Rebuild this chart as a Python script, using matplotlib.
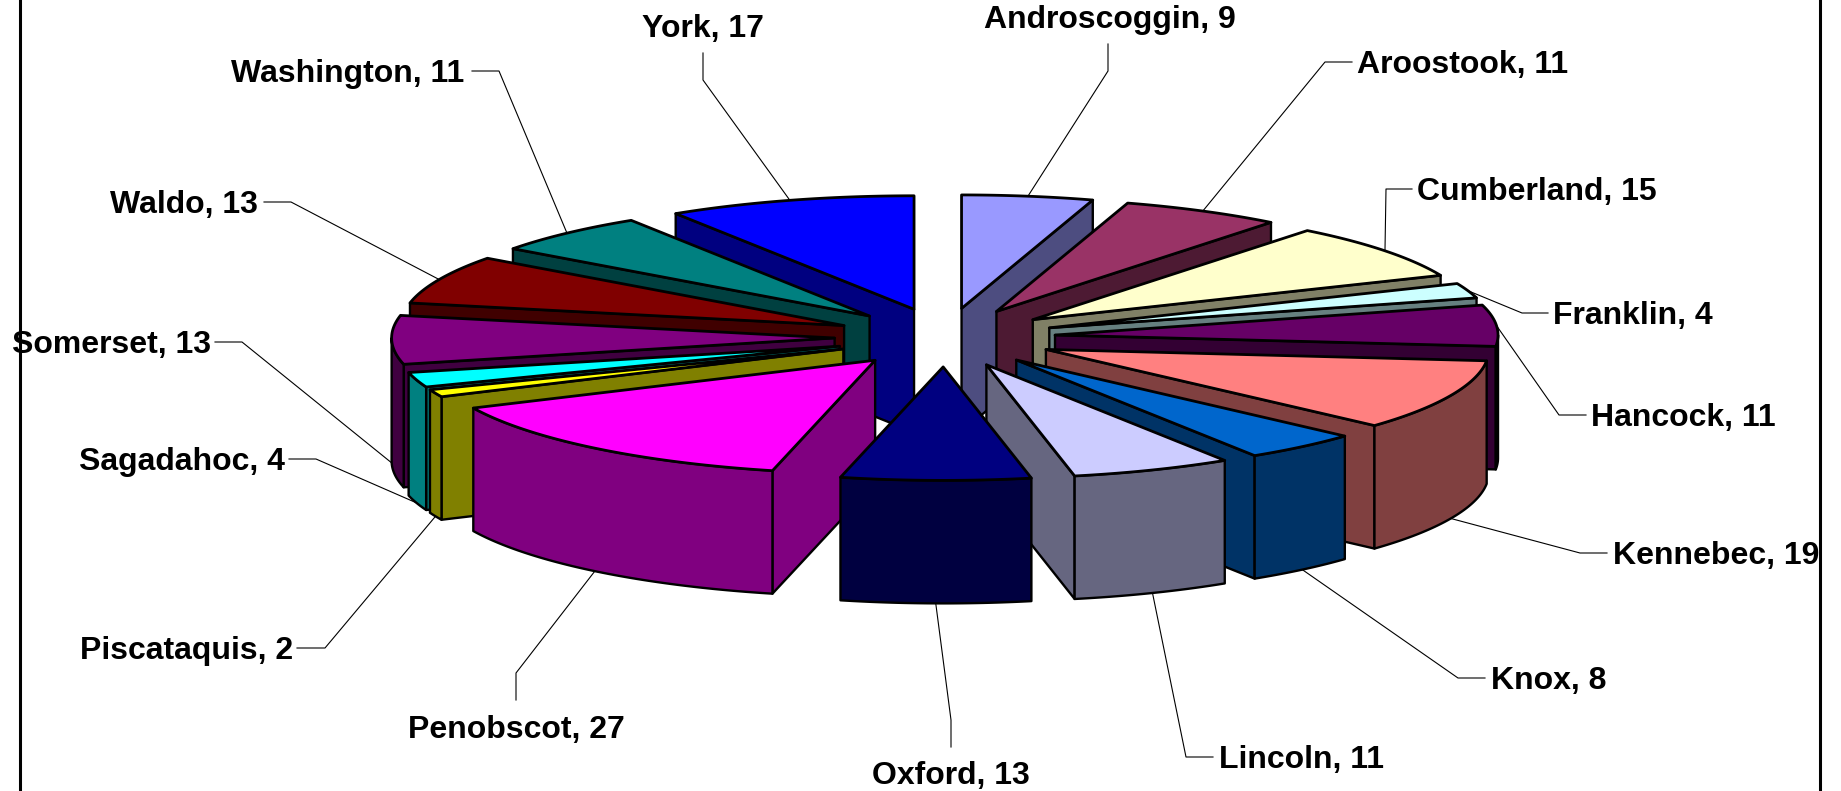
import numpy as np
import matplotlib
matplotlib.use('Agg')
import matplotlib.pyplot as plt
from matplotlib.colors import to_rgb
from matplotlib.patches import Polygon

counties = ['Androscoggin', 'Aroostook', 'Cumberland', 'Franklin', 'Hancock', 'Kennebec',
            'Knox', 'Lincoln', 'Oxford', 'Penobscot', 'Piscataquis', 'Sagadahoc',
            'Somerset', 'Waldo', 'Washington', 'York']
counts = [9, 11, 15, 4, 11, 19, 8, 11, 13, 27, 2, 4, 13, 13, 11, 17]
colors = ['#9999FF', '#993366', '#FFFFCC', '#CCFFFF', '#660066', '#FF8080',
          '#0066CC', '#CCCCFF', '#000080', '#FF00FF', '#FFFF00', '#00FFFF',
          '#800080', '#800000', '#008080', '#0000FF']

# layout, in pixels of the 1841x791 picture
CX, CY = 945, 337.5
RX, RY = 443, 113.5
EX, EY = 110.4, 29.4
DEPTH = 123
label_x = [984, 1357, 1417, 1553, 1591, 1613, 1491, 1219, 872, 408, 80, 79, 12, 110, 231, 642]
label_y = [28, 73, 200, 324, 426, 564, 689, 768, 784, 738, 659, 470, 353, 213, 82, 37]
leader_start = [(1108, 44), (1352, 62), (1412, 189), (1548, 313), (1586, 415), (1607, 553),
                (1485, 678), (1213, 757), (951, 747), (516, 700), (297, 648), (289, 459),
                (215, 342), (264, 202), (472, 71), (703, 53)]
leader_elbow = [(1108, 71), (1325, 62), (1386, 189), (1522, 313), (1559, 415), (1580, 553),
                (1458, 678), (1186, 757), (951, 720), (516, 673), (325, 648), (316, 459),
                (242, 342), (291, 202), (499, 71), (703, 80)]


def rim(theta, off_x=0, off_y=0, drop=0):
    return np.column_stack([CX + off_x + RX * np.sin(theta),
                            CY + off_y - RY * np.cos(theta) + drop])


fig = plt.figure(figsize=(18.41, 7.91), dpi=100)
ax = fig.add_axes([0, 0, 1, 1])
ax.set_xlim(0, 1841)
ax.set_ylim(791, 0)
ax.axis('off')

edges = np.cumsum([0] + counts) / sum(counts) * 2 * np.pi
mids = (edges[:-1] + edges[1:]) / 2
order = np.argsort(-np.cos(mids))

for z, i in enumerate(order):
    a0, a1 = edges[i], edges[i + 1]
    ox, oy = EX * np.sin(mids[i]), -EY * np.cos(mids[i])
    apex = np.array([[CX + ox, CY + oy]])
    top = to_rgb(colors[i])
    side = tuple(c * 0.5 for c in top)
    style = dict(facecolor=side, edgecolor='black', lw=1.7, joinstyle='round', zorder=z + 2)

    # cut faces, only the ones turned to the viewer
    for ang, show in [(a0, np.sin(a0) < -1e-6), (a1, np.sin(a1) > 1e-6)]:
        if show:
            p = rim(np.array([ang]), ox, oy)
            ax.add_patch(Polygon(np.vstack([apex, p, p + [0, DEPTH], apex + [0, DEPTH]]), **style))

    # outer wall, front half of the rim only
    lo, hi = max(a0, np.pi / 2), min(a1, 3 * np.pi / 2)
    if hi > lo:
        t = np.linspace(lo, hi, 60)
        ax.add_patch(Polygon(np.vstack([rim(t, ox, oy), rim(t[::-1], ox, oy, DEPTH)]), **style))

    t = np.linspace(a0, a1, 80)
    ax.add_patch(Polygon(np.vstack([apex, rim(t, ox, oy)]), facecolor=top, edgecolor='black',
                         lw=2.0, joinstyle='round', zorder=z + 2))

# leader lines go from the middle of each slice's rim to its label
for i, name in enumerate(counties):
    s, c = np.sin(mids[i]), np.cos(mids[i])
    ax_pt = (CX + (RX + EX) * s, CY - (RY + EY) * c + (DEPTH if c < 0 else 0))
    xs = [leader_start[i][0], leader_elbow[i][0], ax_pt[0]]
    ys = [leader_start[i][1], leader_elbow[i][1], ax_pt[1]]
    ax.plot(xs, ys, color='black', lw=0.8, zorder=1)
    ax.text(label_x[i], label_y[i], '{0}, {1}'.format(name, counts[i]), ha='left', va='baseline',
            fontsize=23, fontweight='bold', family='Liberation Sans', zorder=40)

# chart area border, only its sides are inside the picture
ax.plot([20.5, 20.5], [0, 791], color='black', lw=2.2, zorder=50)
ax.plot([1820.5, 1820.5], [0, 791], color='black', lw=2.2, zorder=50)

fig.savefig('out.png', dpi=100, facecolor='white')
